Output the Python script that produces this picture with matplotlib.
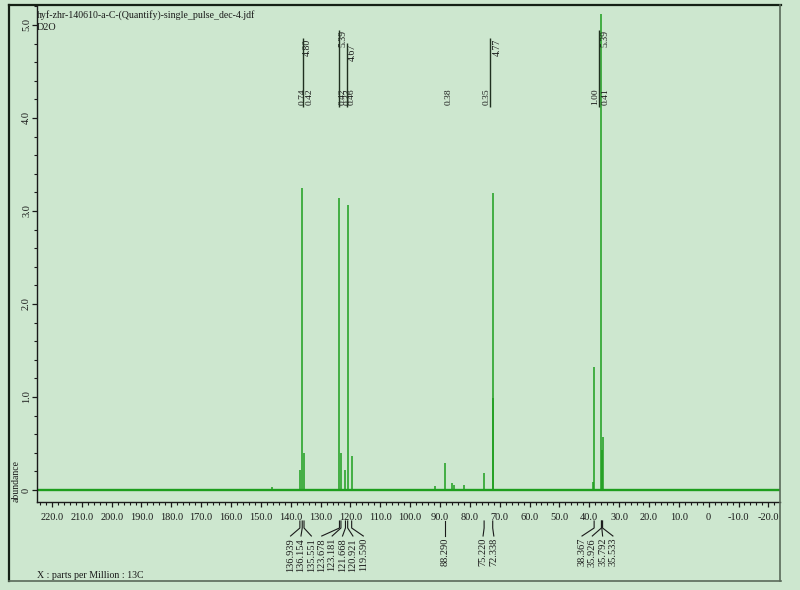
import matplotlib
matplotlib.use('Agg')
import matplotlib.pyplot as plt
from matplotlib.ticker import FixedLocator, MultipleLocator, FixedFormatter
from matplotlib.transforms import blended_transform_factory
from matplotlib.lines import Line2D

# ---------------- data ----------------
title = "hyf-zhr-140610-a-C-(Quantify)-single_pulse_dec-4.jdf"
solvent = "D2O"
x_axis_text = "X : parts per Million : 13C"
y_axis_text = "abundance"

peak_ppm = [146.3, 136.939, 136.154, 135.551, 123.678, 123.181, 121.668,
            120.921, 119.590, 91.7, 88.290, 86.0, 85.3, 82.0, 75.220,
            72.338, 72.1, 38.9, 38.367, 35.926, 35.792, 35.533]
peak_height = [0.03, 0.22, 3.25, 0.40, 3.14, 0.40, 0.22,
               3.06, 0.37, 0.04, 0.29, 0.07, 0.05, 0.05, 0.18,
               3.19, 0.99, 0.09, 1.32, 5.12, 0.43, 0.57]

label_groups = [
    [136.939, 136.154, 135.551, 123.678, 123.181, 121.668, 120.921, 119.590],
    [88.290],
    [75.220, 72.338],
    [38.367, 35.926, 35.792, 35.533],
]

x_tick_values = [220, 210, 200, 190, 180, 170, 160, 150, 140, 130, 120, 110,
                 100, 90, 80, 70, 60, 50, 40, 30, 20, 10, 0, -10, -20]
x_tick_labels = ["220.0", "210.0", "200.0", "190.0", "180.0", "170.0", "160.0",
                 "150.0", "140.0", "130.0", "120.0", "110.0", "100.0", "90.0",
                 "80.0", "70.0", "60.0", "50.0", "40.0", "30.0", "20.0", "10.0",
                 "0", "-10.0", "-20.0"]
y_tick_values = [0, 1, 2, 3, 4, 5]
y_tick_labels = ["0", "1.0", "2.0", "3.0", "4.0", "5.0"]

# integrals: (ppm of curve, bottom, top)
integral_ppm = [135.9, 123.85, 121.17, 73.3, 36.75]
integral_low = [4.12, 4.12, 4.12, 4.12, 4.12]
integral_high = [4.86, 4.95, 4.81, 4.86, 4.95]
integral_top_text = ["4.80", "5.39", "4.67", "4.77", "5.39"]
integral_top_ppm = [134.6, 122.5, 119.5, 70.9, 34.7]
integral_bot_text = ["0.74", "0.42", "0.42", "0.33", "0.46", "0.38", "0.35", "1.00", "0.41"]
integral_bot_ppm = [135.9, 133.6, 122.5, 121.0, 119.5, 87.0, 74.3, 38.1, 34.4]

# ---------------- style ----------------
bg = '#cde7cf'
green = '#1e9e1e'
dark = '#1a1a1a'
W, H = 800, 590
serif = ['Liberation Serif', 'DejaVu Serif']

fig = plt.figure(figsize=(W / 100, H / 100), dpi=100, facecolor=bg)

def fy(py):
    return 1 - py / H

def fx(px):
    return px / W

ax = fig.add_axes([fx(37), fy(502), (780 - 37) / W, (502 - 5) / H])
ax.set_facecolor(bg)
ax.set_xlim(225.0, -23.9)
ax.set_ylim(-0.129, 5.215)

for s in ['top', 'right']:
    ax.spines[s].set_visible(False)
for s in ['left', 'bottom']:
    ax.spines[s].set_color(dark)
    ax.spines[s].set_linewidth(1.0)

ax.xaxis.set_major_locator(FixedLocator(x_tick_values))
ax.xaxis.set_major_formatter(FixedFormatter(x_tick_labels))
ax.xaxis.set_minor_locator(MultipleLocator(2))
ax.yaxis.set_major_locator(FixedLocator(y_tick_values))
ax.yaxis.set_major_formatter(FixedFormatter(y_tick_labels))
ax.yaxis.set_minor_locator(MultipleLocator(0.2))
ax.tick_params(axis='both', which='major', direction='out', length=3.5, width=0.9,
               color=dark, labelcolor=dark, labelsize=7.5)
ax.tick_params(axis='both', which='minor', direction='out', length=2.2, width=0.8, color=dark)
ax.tick_params(axis='x', which='major', pad=4.5)
ax.tick_params(axis='y', which='major', pad=0.8)
for lab in ax.get_xticklabels():
    lab.set_family(serif)
for lab in ax.get_yticklabels():
    lab.set_family(serif)
    lab.set_rotation(90)
    lab.set_va('center')

# spectrum
ax.plot([225.0, -23.9], [0, 0], color=green, lw=1.7, solid_capstyle='butt', zorder=2)
ax.vlines(peak_ppm, 0, peak_height, color=green, lw=1.1, zorder=3)

# integrals
ax.vlines(integral_ppm, integral_low, integral_high, color='#203020', lw=1.0, zorder=4)
for t, p, top in zip(integral_top_text, integral_top_ppm, integral_high):
    ax.text(p, top - 0.1, t, rotation=90, ha='center', va='center', fontsize=7,
            family=serif, color=dark)
for t, p in zip(integral_bot_text, integral_bot_ppm):
    ax.text(p, 4.225, t, rotation=90, ha='center', va='center', fontsize=6.8,
            family=serif, color=dark)

# peak labels below axis
trans = blended_transform_factory(ax.transData, fig.transFigure)
group_center = [127.87, 88.29, 73.77, 37.25]
group_spacing = [3.48, 3.6, 3.6, 3.45]
for grp, c, sp in zip(label_groups, group_center, group_spacing):
    n = len(grp)
    for i, p in enumerate(grp):
        lx = c + ((n - 1) / 2 - i) * sp
        ax.add_line(Line2D([p, p, lx], [fy(521), fy(528), fy(536)], transform=trans,
                           color=dark, lw=0.8, clip_on=False))
        ax.text(lx, fy(538), f"{p:.3f}", transform=trans, rotation=90, ha='center',
                va='top', fontsize=7.5, family=serif, color=dark, clip_on=False)

# texts
fig.text(fx(37), fy(15), title, fontsize=7.1, family=serif, color=dark, ha='left', va='center')
fig.text(fx(37), fy(27), solvent, fontsize=7.3, family=serif, color=dark, ha='left', va='center')
fig.text(fx(37), fy(576), x_axis_text, fontsize=7.1, family=serif, color=dark, ha='left', va='center')
fig.text(fx(16), fy(481), y_axis_text, fontsize=7, family=serif, color=dark, rotation=90,
         ha='center', va='center')

# outer frame
fig.add_artist(Line2D([fx(9), fx(9)], [fy(5), fy(581)], transform=fig.transFigure, color='#152015', lw=1.6))
fig.add_artist(Line2D([fx(9), fx(781)], [fy(5), fy(5)], transform=fig.transFigure, color='#152015', lw=1.6))
fig.add_artist(Line2D([fx(780), fx(780)], [fy(5), fy(581)], transform=fig.transFigure, color='#5a6a5a', lw=1.2))
fig.add_artist(Line2D([fx(9), fx(781)], [fy(581), fy(581)], transform=fig.transFigure, color='#5a6a5a', lw=1.2))

fig.savefig('out.png', dpi=100, facecolor=bg)
